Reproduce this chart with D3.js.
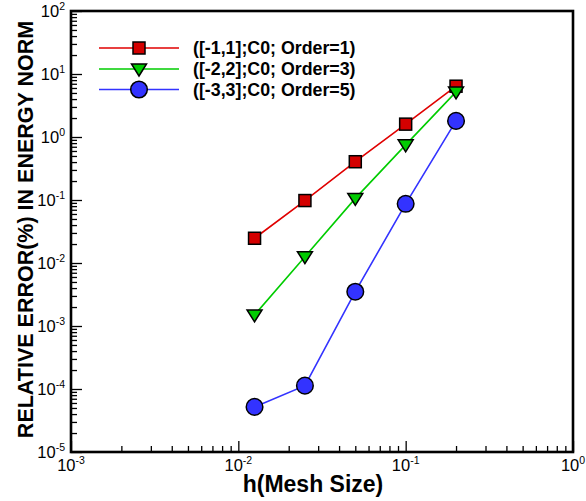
<!DOCTYPE html>
<html><head><meta charset="utf-8">
<script src="https://cdn.jsdelivr.net/npm/d3@7"></script>
<style>body{margin:0;background:#fff}svg{display:block}text{font-family:"Liberation Sans",Arial,Helvetica,sans-serif}</style>
</head><body><svg id="c" width="586" height="501"></svg>
<script>
const meshSizes = [0.0125, 0.025, 0.05, 0.1, 0.2];
const seriesNames = ["([-1,1];C0; Order=1)", "([-2,2];C0; Order=3)", "([-3,3];C0; Order=5)"];
const order1 = [0.0247, 0.098, 0.405, 1.6, 6.4];
const order3 = [0.0015, 0.0126, 0.106, 0.75, 5.2];
const order5 = [5.2e-5, 1.13e-4, 0.0035, 0.087, 1.8];
const xTickExps = [-3, -2, -1, 0];
const yTickExps = [-5, -4, -3, -2, -1, 0, 1, 2];
const xTitle = "h(Mesh Size)";
const yTitle = "RELATIVE ERROR(%) IN ENERGY NORM";

const series = [
  {name: seriesNames[0], values: order1, line: "#e00000", fill: "#d40000", shape: "square"},
  {name: seriesNames[1], values: order3, line: "#00cc00", fill: "#00cc00", shape: "tri"},
  {name: seriesNames[2], values: order5, line: "#3333ff", fill: "#3333ff", shape: "circle"}
];

const svg = d3.select("#c");
const L = 71, R = 573, T = 11, B = 452;
const x = d3.scaleLog().domain([1e-3, 1]).range([L, R]);
const y = d3.scaleLog().domain([1e-5, 1e2]).range([B, T]);

function minors(lo, hi) {
  const out = [];
  for (let e = lo; e < hi; e++) for (let m = 2; m <= 9; m++) out.push(m * Math.pow(10, e));
  return out;
}
const xMaj = xTickExps.map(e => Math.pow(10, e));
const yMaj = yTickExps.map(e => Math.pow(10, e));

// axes ticks (inward)
const gx = svg.append("g").attr("transform", `translate(0,${B})`);
gx.call(d3.axisBottom(x).tickValues(minors(-3, 0)).tickSizeInner(-6).tickSizeOuter(0).tickFormat(""));
gx.append("g").call(d3.axisBottom(x).tickValues(xMaj).tickSizeInner(-11).tickSizeOuter(0).tickFormat(""));
const gy = svg.append("g").attr("transform", `translate(${L},0)`);
gy.call(d3.axisLeft(y).tickValues(minors(-5, 2)).tickSizeInner(-6).tickSizeOuter(0).tickFormat(""));
gy.append("g").call(d3.axisLeft(y).tickValues(yMaj).tickSizeInner(-11).tickSizeOuter(0).tickFormat(""));
svg.selectAll(".domain").remove();
svg.selectAll(".tick line").attr("stroke", "#000").attr("stroke-width", 1.3);

// tick labels
const fs = 16.5, sfs = 10.5;
xTickExps.forEach(e => {
  const t = svg.append("text").attr("x", x(Math.pow(10, e))).attr("y", B + 19)
    .attr("text-anchor", "middle").attr("font-size", fs);
  t.append("tspan").text("10");
  t.append("tspan").attr("font-size", sfs).attr("dy", -7).text(e);
});
yTickExps.forEach(e => {
  const t = svg.append("text").attr("x", L - 6).attr("y", y(Math.pow(10, e)) + 6)
    .attr("text-anchor", "end").attr("font-size", fs);
  t.append("tspan").text("10");
  t.append("tspan").attr("font-size", sfs).attr("dy", -7).text(e);
});

// frame
svg.append("rect").attr("x", L).attr("y", T).attr("width", R - L).attr("height", B - T)
  .attr("fill", "none").attr("stroke", "#000").attr("stroke-width", 2.6);

// titles
svg.append("text").attr("x", 313).attr("y", 492).attr("text-anchor", "middle")
  .attr("font-size", 23).attr("font-weight", "bold").text(xTitle);
svg.append("text").attr("transform", `translate(33,${(T + B) / 2 - 2}) rotate(-90)`)
  .attr("text-anchor", "middle").attr("font-size", 21.5).attr("font-weight", "bold").text(yTitle);

function marker(g, s) {
  if (s.shape === "square") {
    g.append("rect").attr("x", -6).attr("y", -6).attr("width", 12).attr("height", 12)
      .attr("fill", s.fill).attr("stroke", "#000").attr("stroke-width", 1.5);
  } else if (s.shape === "tri") {
    g.append("path").attr("d", "M-7.5,-5 L7.5,-5 L0,7 Z")
      .attr("fill", s.fill).attr("stroke", "#000").attr("stroke-width", 1.5).attr("stroke-linejoin", "miter");
  } else {
    g.append("circle").attr("r", 8.3).attr("fill", s.fill).attr("stroke", "#000").attr("stroke-width", 1.5);
  }
}

const line = d3.line().x(d => x(d[0])).y(d => y(d[1]));
series.forEach(s => {
  const pts = meshSizes.map((h, i) => [h, s.values[i]]);
  svg.append("path").datum(pts).attr("d", line).attr("fill", "none")
    .attr("stroke", s.line).attr("stroke-width", 1.6);
  pts.forEach(p => {
    const g = svg.append("g").attr("transform", `translate(${x(p[0])},${y(p[1])})`);
    marker(g, s);
  });
});

// legend
const legY = [48, 69, 89.5];
series.forEach((s, i) => {
  svg.append("line").attr("x1", 99).attr("x2", 179).attr("y1", legY[i]).attr("y2", legY[i])
    .attr("stroke", s.line).attr("stroke-width", 1.6);
  const g = svg.append("g").attr("transform", `translate(139,${legY[i]})`);
  marker(g, s);
  svg.append("text").attr("x", 193).attr("y", legY[i] + 6).attr("font-size", 17.8)
    .attr("font-weight", "bold").text(s.name);
});
</script></body></html>
